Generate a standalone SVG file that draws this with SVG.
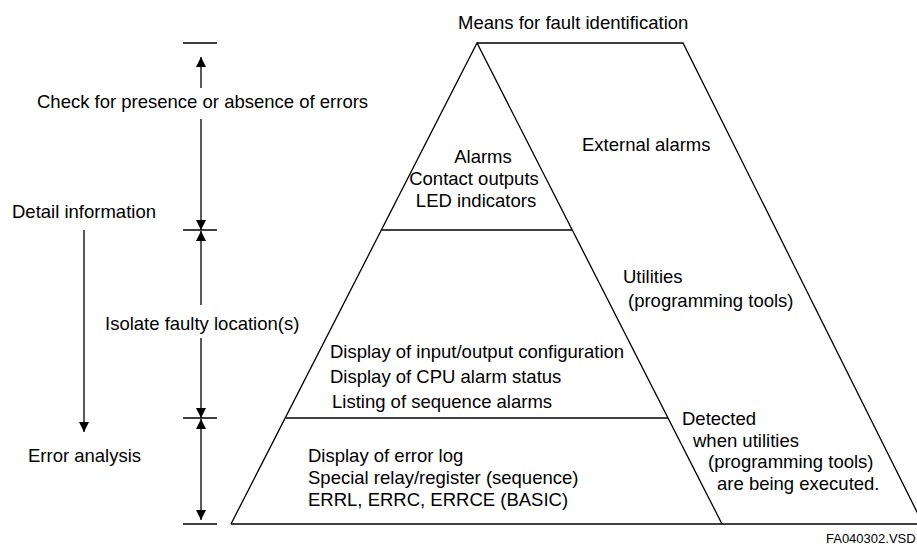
<svg xmlns="http://www.w3.org/2000/svg" width="917" height="548" viewBox="0 0 917 548">
<style>
text{font-family:"Liberation Sans",Arial,sans-serif;font-size:18.5px;fill:#000}
.ln{stroke:#000;stroke-width:1.3;fill:none}
.small{font-size:13px}
</style>
<defs>
<marker id="ah" viewBox="0 0 10 10" refX="10" refY="5" markerWidth="10" markerHeight="10" markerUnits="userSpaceOnUse" orient="auto">
<path d="M0,0 L10,5 L0,10 z" fill="#000"/>
</marker>
</defs>
<rect width="917" height="548" fill="#fff"/>
<g id="shapes">
<path class="ln" d="M231,524 L477,43 L722,524"/>
<path class="ln" d="M477,43 L683,43 L923,524"/>
<path class="ln" d="M231,524 L917,524"/>
<path class="ln" d="M382,230 L572,230"/>
<path class="ln" d="M286,418 L668,418"/>
</g>
<g id="connectors">
<path class="ln" d="M183,43 H217 M183,230 H217 M183,418 H217 M183,524 H217"/>
<path class="ln" d="M201,88 V57" marker-end="url(#ah)"/>
<path class="ln" d="M201,119 V230" marker-end="url(#ah)"/>
<path class="ln" d="M201,305 V231" marker-end="url(#ah)"/>
<path class="ln" d="M201,338 V418" marker-end="url(#ah)"/>
<path class="ln" d="M201,470 V419" marker-end="url(#ah)"/>
<path class="ln" d="M201,470 V520" marker-end="url(#ah)"/>
<path class="ln" d="M84,230 V432" marker-end="url(#ah)"/>
</g>
<g id="title"><text x="458" y="29">Means for fault identification</text></g>
<g id="left-labels">
<text x="37" y="108">Check for presence or absence of errors</text>
<text x="12" y="218">Detail information</text>
<text x="105" y="330">Isolate faulty location(s)</text>
<text x="28" y="462">Error analysis</text>
</g>
<g id="tier1">
<text x="483" y="163" text-anchor="middle">Alarms</text>
<text x="474" y="185" text-anchor="middle">Contact outputs</text>
<text x="476" y="207" text-anchor="middle">LED indicators</text>
</g>
<g id="tier2">
<text x="330" y="358">Display of input/output configuration</text>
<text x="330" y="383">Display of CPU alarm status</text>
<text x="332" y="408">Listing of sequence alarms</text>
</g>
<g id="tier3">
<text x="308" y="462">Display of error log</text>
<text x="308" y="484">Special relay/register (sequence)</text>
<text x="308" y="506">ERRL, ERRC, ERRCE (BASIC)</text>
</g>
<g id="external">
<text x="582" y="151">External alarms</text>
<text x="623" y="283">Utilities</text>
<text x="628" y="307">(programming tools)</text>
<text x="682" y="425">Detected</text>
<text x="693" y="447">when utilities</text>
<text x="708" y="468">(programming tools)</text>
<text x="717" y="490">are being executed.</text>
</g>
<g id="footer"><text class="small" x="826" y="543">FA040302.VSD</text></g>
</svg>
